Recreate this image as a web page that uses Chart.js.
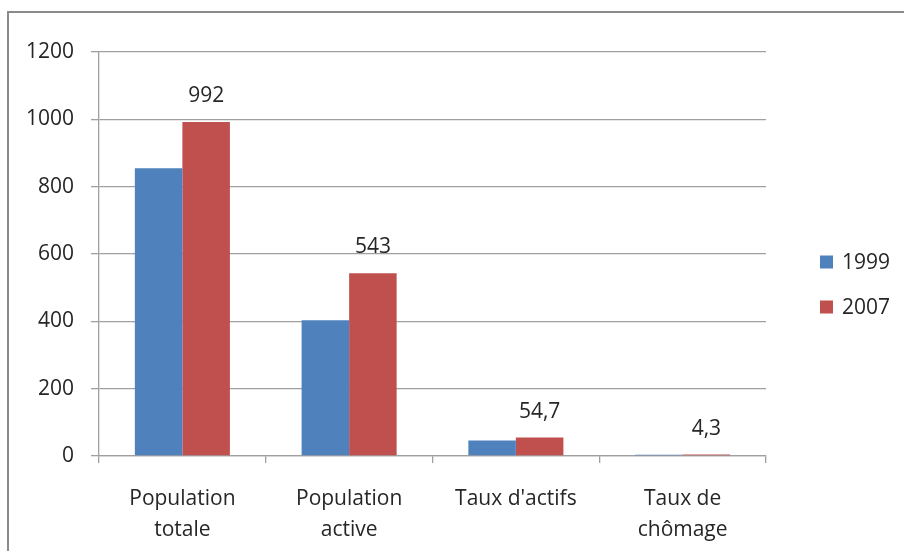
<!DOCTYPE html>
<html>
<head>
<meta charset="utf-8">
<script src="https://cdn.jsdelivr.net/npm/chart.js@4/dist/chart.umd.min.js"></script>
<style>
  html, body { margin: 0; padding: 0; background: #fff; }
  #wrap { width: 904px; height: 551px; position: relative; }
</style>
</head>
<body>
<div id="wrap"><canvas id="c" width="904" height="551"></canvas></div>
<script>
const categories = [["Population", "totale"], ["Population", "active"], "Taux d'actifs", ["Taux de", "chômage"]];
const seriesNames = ["1999", "2007"];
const values1999 = [855, 403, 46.4, 4];
const values2007 = [992, 543, 54.7, 4.3];
const yMin = 0, yMax = 1200, yStep = 200;

const BLUE = '#4F81BD', RED = '#C0504D';
const TEXT = '#262626';
const FONT = "'Open Sans', 'Liberation Sans', sans-serif";

// outer frame around the chart
const framePlugin = {
  id: 'frame',
  beforeDraw(chart) {
    const ctx = chart.ctx;
    ctx.save();
    ctx.strokeStyle = '#8a8a8a';
    ctx.lineWidth = 2;
    ctx.strokeRect(8, 12, 1000, 1000);
    ctx.restore();
  }
};

// value labels above the 2007 bars
const valueLabels = {
  id: 'valueLabels',
  afterDatasetsDraw(chart) {
    const ctx = chart.ctx;
    const meta = chart.getDatasetMeta(1);
    const data = chart.data.datasets[1].data;
    ctx.save();
    ctx.font = "21px " + FONT;
    ctx.fillStyle = TEXT;
    ctx.textAlign = 'center';
    ctx.textBaseline = 'middle';
    meta.data.forEach((bar, i) => {
      ctx.fillText(String(data[i]).replace('.', ','), bar.x, bar.y - 26);
    });
    ctx.restore();
  }
};

// legend on the right, one entry per series
const sideLegend = {
  id: 'sideLegend',
  afterDraw(chart) {
    const ctx = chart.ctx;
    ctx.save();
    ctx.font = "21px " + FONT;
    ctx.textBaseline = 'middle';
    ctx.textAlign = 'left';
    chart.data.datasets.forEach((ds, i) => {
      const cy = 262 + i * 45;
      ctx.fillStyle = ds.backgroundColor;
      ctx.fillRect(820, cy - 6.5, 13, 13);
      ctx.fillStyle = TEXT;
      ctx.fillText(ds.label, 842, cy + 1);
    });
    ctx.restore();
  }
};

new Chart(document.getElementById('c'), {
  type: 'bar',
  data: {
    labels: categories,
    datasets: [
      { label: seriesNames[0], data: values1999, backgroundColor: BLUE },
      { label: seriesNames[1], data: values2007, backgroundColor: RED }
    ]
  },
  options: {
    responsive: false,
    animation: false,
    devicePixelRatio: 1,
    layout: { padding: { top: 52, right: 138, bottom: 0, left: 0 } },
    datasets: { bar: { categoryPercentage: 0.57, barPercentage: 1.0 } },
    plugins: {
      legend: { display: false },
      tooltip: { enabled: false }
    },
    scales: {
      x: {
        afterFit(s) { s.height = 95; },
        grid: { drawOnChartArea: false, drawTicks: true, tickLength: 7, color: '#a0a0a0', lineWidth: 1.3, offset: true },
        border: { display: true, color: '#a0a0a0', width: 1.3 },
        ticks: { color: TEXT, font: { family: FONT, size: 21, lineHeight: 1.48 }, padding: 20, maxRotation: 0, autoSkip: false }
      },
      y: {
        min: yMin, max: yMax,
        afterFit(s) { s.width = 99; },
        grid: { color: '#a0a0a0', lineWidth: 1.3, drawTicks: true, tickLength: 8 },
        border: { display: true, color: '#a0a0a0', width: 1.3 },
        ticks: { stepSize: yStep, color: TEXT, font: { family: FONT, size: 21 }, padding: 17, callback: v => String(v) }
      }
    }
  },
  plugins: [framePlugin, valueLabels, sideLegend]
});
</script>
</body>
</html>
